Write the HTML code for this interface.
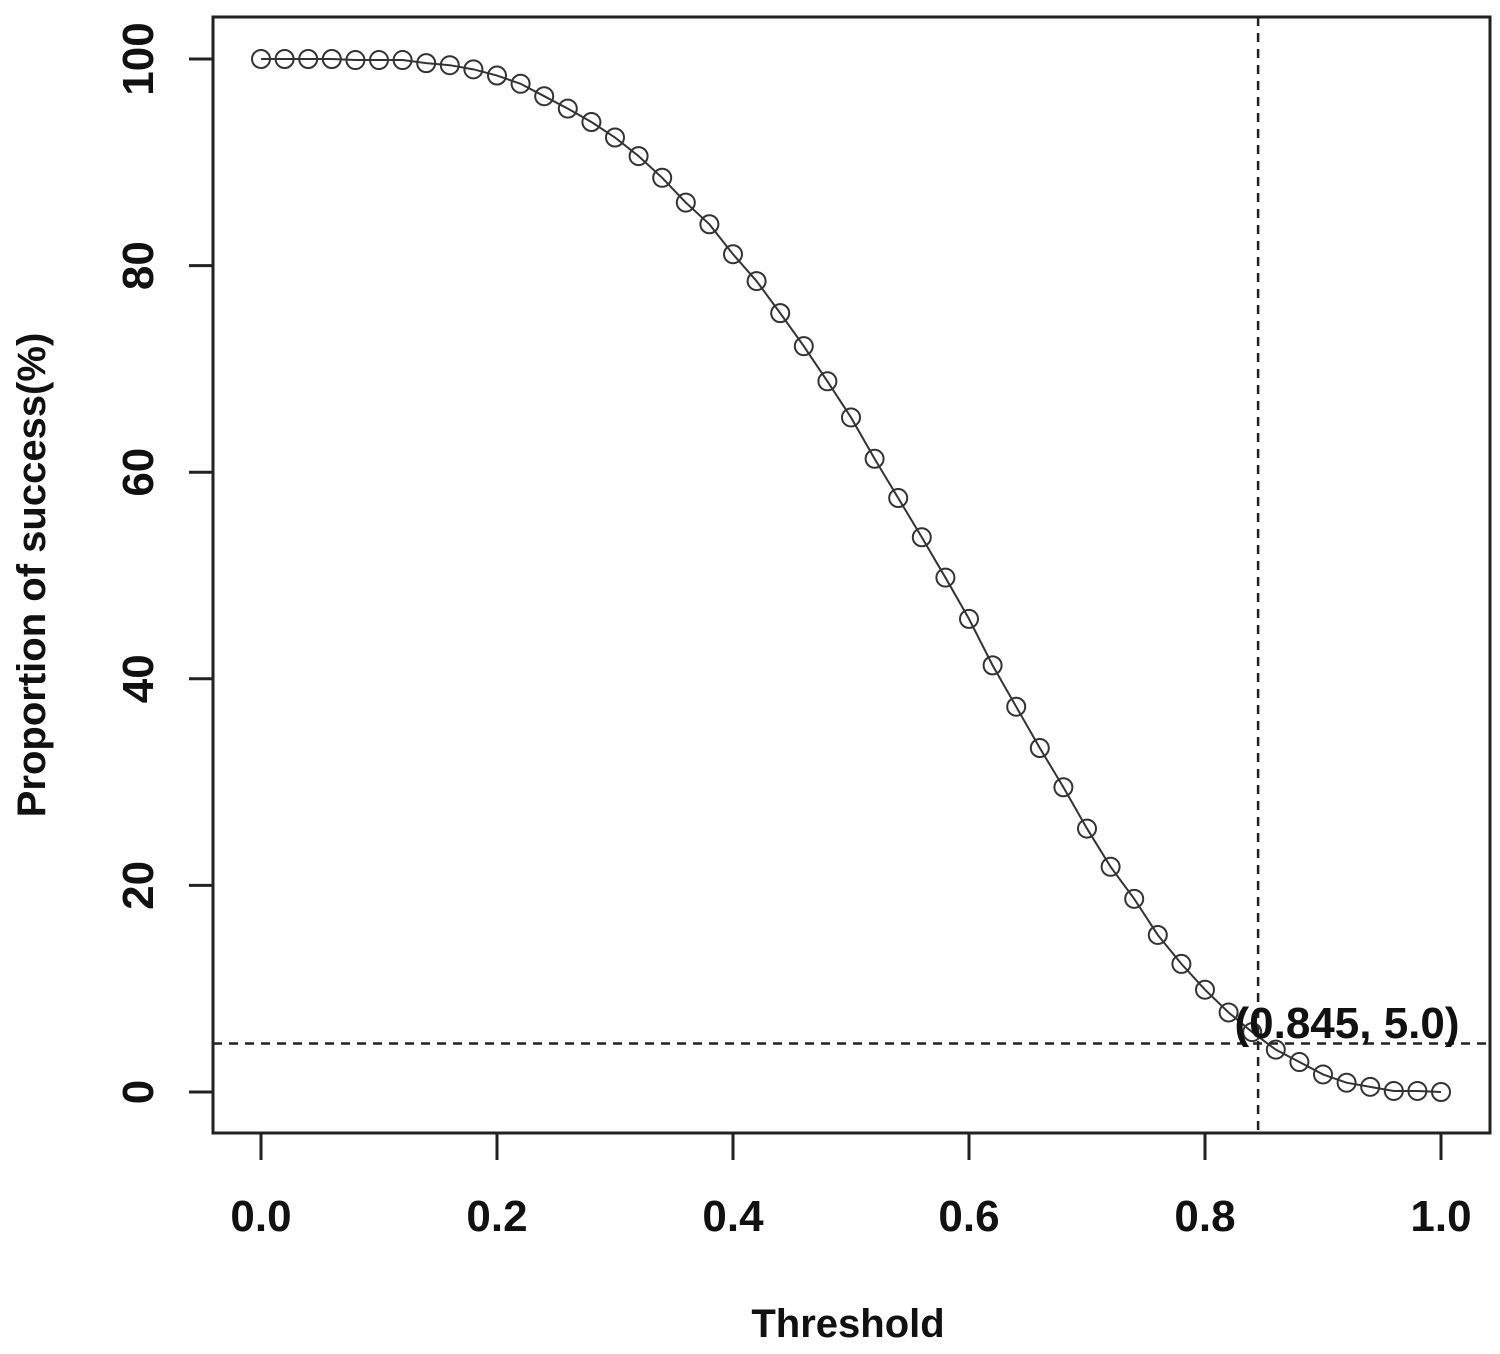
<!DOCTYPE html>
<html><head><meta charset="utf-8"><style>
html,body{margin:0;padding:0;background:#fff;}
svg{display:block;font-family:"Liberation Sans",Arial,sans-serif;font-weight:bold;}
</style></head><body>
<svg id="chart" width="1500" height="1354" viewBox="0 0 1500 1354">
<rect x="213" y="17" width="1277" height="1116" fill="none" stroke="#222" stroke-width="3"/>
<g id="axes"></g>
<g id="marks"></g>
<text x="848" y="1337" font-size="40" text-anchor="middle" fill="#111">Threshold</text>
<text transform="translate(45,575) rotate(-90)" font-size="40" text-anchor="middle" fill="#111">Proportion of success(%)</text>
</svg>
<script>
const xValues = [0,0.02,0.04,0.06,0.08,0.10,0.12,0.14,0.16,0.18,0.20,0.22,0.24,0.26,0.28,0.30,0.32,0.34,0.36,0.38,0.40,0.42,0.44,0.46,0.48,0.50,0.52,0.54,0.56,0.58,0.60,0.62,0.64,0.66,0.68,0.70,0.72,0.74,0.76,0.78,0.80,0.82,0.84,0.86,0.88,0.90,0.92,0.94,0.96,0.98,1.00];
const yValues = [100,100,100,100,99.9,99.9,99.9,99.6,99.4,99.0,98.4,97.6,96.4,95.2,93.9,92.4,90.6,88.5,86.1,84.0,81.1,78.5,75.4,72.2,68.8,65.3,61.3,57.5,53.7,49.8,45.8,41.3,37.3,33.3,29.5,25.5,21.8,18.7,15.2,12.4,9.9,7.7,5.8,4.1,2.9,1.7,0.9,0.5,0.1,0.1,0];
const xTicks = [0,0.2,0.4,0.6,0.8,1.0];
const xTickLabels = ["0.0","0.2","0.4","0.6","0.8","1.0"];
const yTicks = [0,20,40,60,80,100];
const yTickLabels = ["0","20","40","60","80","100"];
const cutX = [0.845];
const cutY = [4.7];
const annotation = ["(0.845, 5.0)"];

const NS = "http://www.w3.org/2000/svg";
const sx = v => 261 + v * 1180;
const sy = v => 1092 - v * 10.33;
const axes = document.getElementById('axes');
const marks = document.getElementById('marks');
function mk(tag, attrs, parent){const e=document.createElementNS(NS,tag);for(const k in attrs)e.setAttribute(k,attrs[k]);parent.appendChild(e);return e;}

xTicks.forEach((t,i)=>{
  const l=mk('line',{x1:sx(t),x2:sx(t),y1:1133,y2:1160,stroke:'#222','stroke-width':3},axes);
  
  
  const tx=mk('text',{x:sx(t),y:1231,'font-size':44,'text-anchor':'middle',fill:'#111'},axes);
  tx.textContent=xTickLabels[i];
  
  
});
yTicks.forEach((t,i)=>{
  const l=mk('line',{x1:189,x2:213,y1:sy(t),y2:sy(t),stroke:'#222','stroke-width':3},axes);
  
  
  const tx=mk('text',{transform:`translate(153,${sy(t)}) rotate(-90)`,'font-size':44,'text-anchor':'middle',fill:'#111'},axes);
  tx.textContent=yTickLabels[i];
  
  
});
const hl=mk('line',{x1:213,x2:1490,y1:sy(cutY[0]),y2:sy(cutY[0]),stroke:'#222','stroke-width':2.5,'stroke-dasharray':'9,7'},marks);


const vl=mk('line',{x1:sx(cutX[0]),x2:sx(cutX[0]),y1:17,y2:1133,stroke:'#222','stroke-width':2.5,'stroke-dasharray':'9,7'},marks);


const pl=mk('polyline',{points:xValues.map((x,i)=>sx(x)+','+sy(yValues[i])).join(' '),fill:'none',stroke:'#333','stroke-width':2},marks);


xValues.forEach((x,i)=>{
  const c=mk('circle',{cx:sx(x),cy:sy(yValues[i]),r:9,fill:'none',stroke:'#333','stroke-width':2},marks);
  
  
});
const an=mk('text',{x:1347,y:1038,'font-size':44,'text-anchor':'middle',fill:'#111'},marks);
an.textContent=annotation[0];


</script>
</body></html>
